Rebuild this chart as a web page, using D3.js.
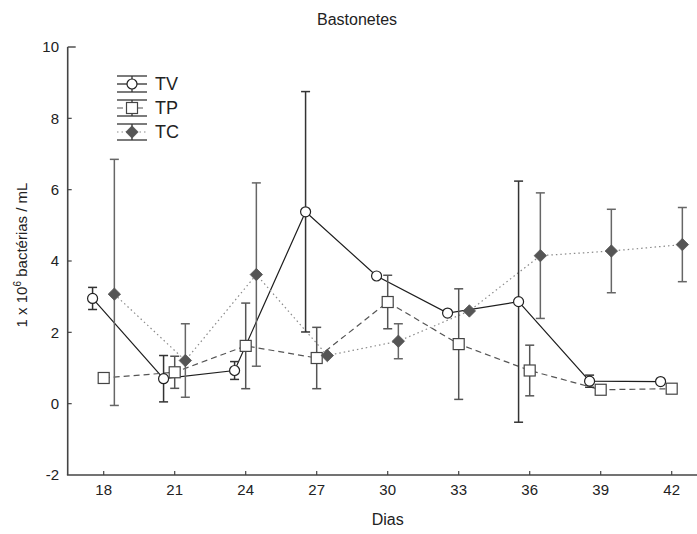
<!DOCTYPE html>
<html>
<head>
<meta charset="utf-8">
<script src="https://cdn.jsdelivr.net/npm/d3@7"></script>
<style>
  html, body { margin: 0; padding: 0; background: #fff; }
  svg { display: block; font-family: "Liberation Sans", Arial, sans-serif; }
</style>
</head>
<body>
<svg id="chart" width="697" height="534"></svg>
<script>
// Sampling days (x axis categories)
const days = [18, 21, 24, 27, 30, 33, 36, 39, 42];
const xTicks = [18, 21, 24, 27, 30, 33, 36, 39, 42];
const yTicks = [-2, 0, 2, 4, 6, 8, 10];

// Mean counts (1 x 10^6 bacteria / mL) with error bar limits per treatment
// (null = no error bar drawn)
const tvMean = [2.95, 0.70, 0.93, 5.38, 3.58, 2.54, 2.86, 0.63, 0.62];
const tvLow  = [2.64, 0.05, 0.68, 2.01, null, null, -0.52, 0.46, 0.56];
const tvHigh = [3.26, 1.35, 1.18, 8.75, null, null, 6.24, 0.80, 0.68];
const tpMean = [0.72, 0.88, 1.62, 1.28, 2.85, 1.67, 0.93, 0.39, 0.42];
const tpLow  = [null, 0.43, 0.42, 0.42, 2.10, 0.12, 0.22, null, null];
const tpHigh = [null, 1.33, 2.82, 2.14, 3.60, 3.22, 1.64, null, null];
const tcMean = [3.07, 1.21, 3.62, 1.35, 1.75, 2.60, 4.15, 4.28, 4.46];
const tcLow  = [-0.05, 0.18, 1.05, null, 1.26, null, 2.39, 3.11, 3.42];
const tcHigh = [6.85, 2.24, 6.19, null, 2.24, null, 5.91, 5.45, 5.50];

const seriesNames = ["TV", "TP", "TC"];

const svg = d3.select("#chart");

const x = d3.scaleLinear().domain([18, 42]).range([103.7, 671.7]);
const y = d3.scaleLinear().domain([-2, 10]).range([475, 47]);
const xLeft = 67.7, xRight = 697;

const series = [
  { name: seriesNames[0], mean: tvMean, low: tvLow, high: tvHigh, shift: -0.47,
    line: "#1e1e1e", dash: null, bar: "#333", marker: "circle" },
  { name: seriesNames[1], mean: tpMean, low: tpLow, high: tpHigh, shift: 0,
    line: "#555", dash: "6,4", bar: "#555", marker: "square" },
  { name: seriesNames[2], mean: tcMean, low: tcLow, high: tcHigh, shift: 0.45,
    line: "#8a8a8a", dash: "1.5,3", bar: "#666", marker: "diamond" }
];

// Axes frame
const axisColor = "#444";
svg.append("line").attr("x1", xLeft).attr("x2", xLeft)
  .attr("y1", y(10)).attr("y2", y(-2))
  .attr("stroke", axisColor).attr("stroke-width", 1.6);
svg.append("line").attr("x1", xLeft - 0.8).attr("x2", xRight)
  .attr("y1", y(-2)).attr("y2", y(-2))
  .attr("stroke", axisColor).attr("stroke-width", 1.6);
svg.append("line").attr("x1", xLeft).attr("x2", xLeft + 8)
  .attr("y1", y(10)).attr("y2", y(10))
  .attr("stroke", axisColor).attr("stroke-width", 1.4);

// Y axis ticks (inward) and labels
const yAxis = svg.append("g");
yAxis.selectAll("line.tick").data(yTicks.filter(d => d > -2 && d < 10)).join("line")
  .attr("x1", xLeft).attr("x2", xLeft + 4)
  .attr("y1", d => y(d)).attr("y2", d => y(d))
  .attr("stroke", axisColor).attr("stroke-width", 1.2);
yAxis.selectAll("text").data(yTicks).join("text")
  .attr("x", 59).attr("y", d => y(d)).attr("dy", "0.35em")
  .attr("text-anchor", "end").attr("font-size", 15).attr("fill", "#222")
  .text(d => d);

// X axis ticks (inward) and labels
const xAxis = svg.append("g");
xAxis.selectAll("line").data(xTicks).join("line")
  .attr("x1", d => x(d)).attr("x2", d => x(d))
  .attr("y1", y(-2)).attr("y2", y(-2) - 4)
  .attr("stroke", axisColor).attr("stroke-width", 1.2);
xAxis.selectAll("text").data(xTicks).join("text")
  .attr("x", d => x(d)).attr("y", 490).attr("dy", "0.35em")
  .attr("text-anchor", "middle").attr("font-size", 15).attr("fill", "#222")
  .text(d => d);

// Titles
svg.append("text").attr("x", 357).attr("y", 19).attr("dy", "0.35em")
  .attr("text-anchor", "middle").attr("font-size", 16).attr("fill", "#222")
  .text("Bastonetes");
svg.append("text").attr("x", x(30)).attr("y", 519).attr("dy", "0.35em")
  .attr("text-anchor", "middle").attr("font-size", 16).attr("fill", "#222")
  .text("Dias");
const yl = svg.append("text")
  .attr("transform", "translate(27,255) rotate(-90)")
  .attr("text-anchor", "middle").attr("font-size", 15).attr("fill", "#222");
yl.append("tspan").text("1 x 10");
yl.append("tspan").attr("dy", -6).attr("font-size", 10).text("6");
yl.append("tspan").attr("dy", 6).text(" bactérias / mL");

// Marker drawing helper
function drawMarker(g, type, cx, cy) {
  if (type === "circle") {
    g.append("circle").attr("cx", cx).attr("cy", cy).attr("r", 5)
      .attr("fill", "#fff").attr("stroke", "#222").attr("stroke-width", 1.2);
  } else if (type === "square") {
    g.append("rect").attr("x", cx - 5.5).attr("y", cy - 5.5)
      .attr("width", 11).attr("height", 11)
      .attr("fill", "#fff").attr("stroke", "#444").attr("stroke-width", 1.2);
  } else {
    const s = 6.2;
    g.append("path")
      .attr("d", `M${cx},${cy - s}L${cx + s},${cy}L${cx},${cy + s}L${cx - s},${cy}Z`)
      .attr("fill", "#555").attr("stroke", "#555").attr("stroke-width", 0.8);
  }
}

// Lines first, then error bars, then markers
series.forEach(s => {
  const pts = days.map((d, i) => [x(d + s.shift), y(s.mean[i])]);
  svg.append("path").datum(pts)
    .attr("d", d3.line())
    .attr("fill", "none").attr("stroke", s.line).attr("stroke-width", 1.2)
    .attr("stroke-dasharray", s.dash);
});

series.forEach(s => {
  const g = svg.append("g");
  days.forEach((d, i) => {
    if (s.low[i] === null || s.high[i] === null) return;
    const cx = x(d + s.shift);
    const y1 = y(s.high[i]), y2 = y(s.low[i]);
    g.append("line").attr("x1", cx).attr("x2", cx).attr("y1", y1).attr("y2", y2)
      .attr("stroke", s.bar).attr("stroke-width", 1.5);
    [y1, y2].forEach(yy => g.append("line")
      .attr("x1", cx - 4.5).attr("x2", cx + 4.5).attr("y1", yy).attr("y2", yy)
      .attr("stroke", s.bar).attr("stroke-width", 1.5));
  });
});

series.forEach(s => {
  const g = svg.append("g");
  days.forEach((d, i) => drawMarker(g, s.marker, x(d + s.shift), y(s.mean[i])));
});

// Legend
const legY = [84, 108, 132];
series.forEach((s, i) => {
  const g = svg.append("g");
  const cy = legY[i], x0 = 117, x1 = 147, cx = 132;
  [cy - 8, cy + 8].forEach(yy => g.append("line")
    .attr("x1", x0).attr("x2", x1).attr("y1", yy).attr("y2", yy)
    .attr("stroke", "#333").attr("stroke-width", 1.3));
  g.append("line").attr("x1", cx).attr("x2", cx).attr("y1", cy - 8).attr("y2", cy + 8)
    .attr("stroke", "#333").attr("stroke-width", 1.3);
  g.append("line").attr("x1", x0).attr("x2", x1).attr("y1", cy).attr("y2", cy)
    .attr("stroke", s.line).attr("stroke-width", 1.2).attr("stroke-dasharray", s.dash);
  drawMarker(g, s.marker, cx, cy);
  g.append("text").attr("x", 155).attr("y", cy).attr("dy", "0.36em")
    .attr("font-size", 18).attr("fill", "#222").text(s.name);
});
</script>
</body>
</html>
